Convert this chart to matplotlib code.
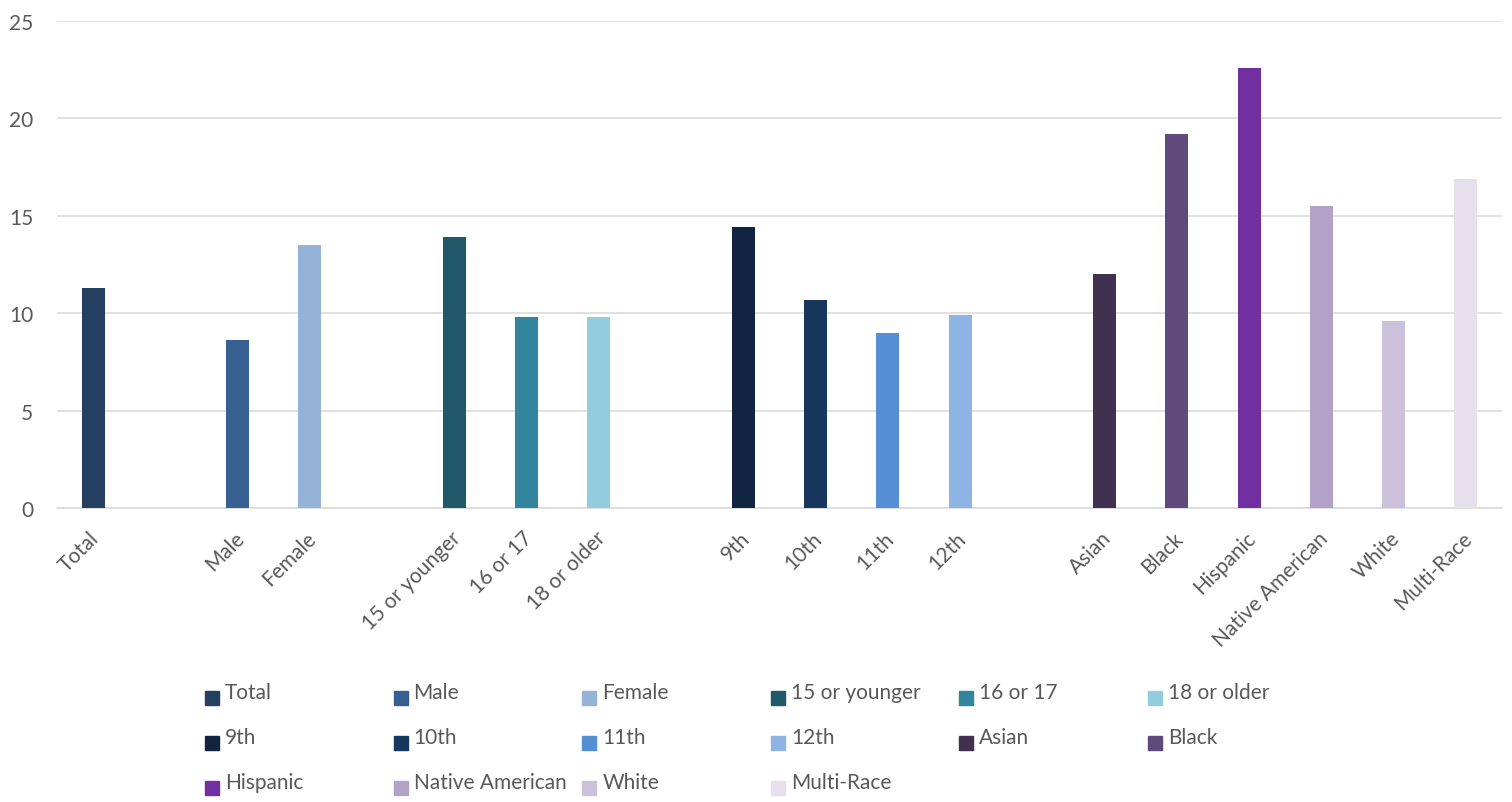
import numpy as np
import matplotlib.pyplot as plt
import matplotlib.transforms as mtransforms
from matplotlib.patches import Rectangle

# categories, in the order they appear on the x axis
labels = ['Total', 'Male', 'Female', '15 or younger', '16 or 17', '18 or older',
          '9th', '10th', '11th', '12th', 'Asian', 'Black', 'Hispanic',
          'Native American', 'White', 'Multi-Race']
values = [11.3, 8.6, 13.5, 13.9, 9.8, 9.8, 14.4, 10.7, 9.0, 9.9,
          12.0, 19.2, 22.6, 15.5, 9.6, 16.9]
# Total | sex | age | grade | race/ethnicity
group_sizes = [1, 2, 3, 4, 6]
colors = ['#243F60', '#376092', '#95B3D7', '#215968', '#31859C', '#93CDDD',
          '#10243F', '#17375E', '#558ED5', '#8EB4E3', '#403151', '#604A7B',
          '#7030A0', '#B3A2C7', '#CCC1DA', '#E6E0EC']
yticks = [0, 5, 10, 15, 20, 25]

TXT = '#595959'
W, H = 1512, 803
plt.rcParams['font.family'] = ['Lato', 'DejaVu Sans']
plt.rcParams['font.size'] = 15

# one empty slot between groups
slots = []
pos = 0
for g, n in enumerate(group_sizes):
    for k in range(n):
        slots.append(pos)
        pos += 1
    pos += 1
slots = np.array(slots)
nslots = slots[-1] + 1

fig = plt.figure(figsize=(W / 100, H / 100), dpi=100)
ax = fig.add_axes([57 / W, 1 - 509 / H, (1502 - 57) / W, (509 - 22) / H])

ax.bar(slots, values, width=0.32, color=colors, zorder=3)

ax.set_xlim(-0.5, nslots - 0.5)
ax.set_ylim(0, 25)
ax.set_yticks(yticks)
ax.yaxis.grid(True, color='#D9D9D9', linewidth=1.1, zorder=0)
ax.set_xticks(slots)
ax.set_xticklabels(labels, rotation=45, ha='right', rotation_mode='anchor')
ax.tick_params(axis='both', length=0, colors=TXT, labelsize=15)
ax.tick_params(axis='y', pad=17)
ax.tick_params(axis='x', pad=14)
shift = mtransforms.ScaledTranslation(-4 / 100, 0, fig.dpi_scale_trans)
for t in ax.get_xticklabels():
    t.set_transform(t.get_transform() + shift)
for s in ['top', 'right', 'left']:
    ax.spines[s].set_visible(False)
ax.spines['bottom'].set_color('#D9D9D9')
ax.spines['bottom'].set_linewidth(1.1)

# legend laid out in rows of 6, like the original
col_x0, col_step = 205, 188.6
row_y0, row_step = 706, 45
for i, (lab, c) in enumerate(zip(labels, colors)):
    r, k = divmod(i, 6)
    x = col_x0 + k * col_step
    yb = row_y0 + r * row_step
    fig.add_artist(Rectangle((x / W, 1 - yb / H), 14 / W, 14 / H,
                             transform=fig.transFigure, color=c))
    fig.text((x + 20) / W, 1 - (yb - 7) / H, lab, color=TXT, fontsize=15,
             va='baseline', ha='left')

fig.savefig('out.png', dpi=100)
